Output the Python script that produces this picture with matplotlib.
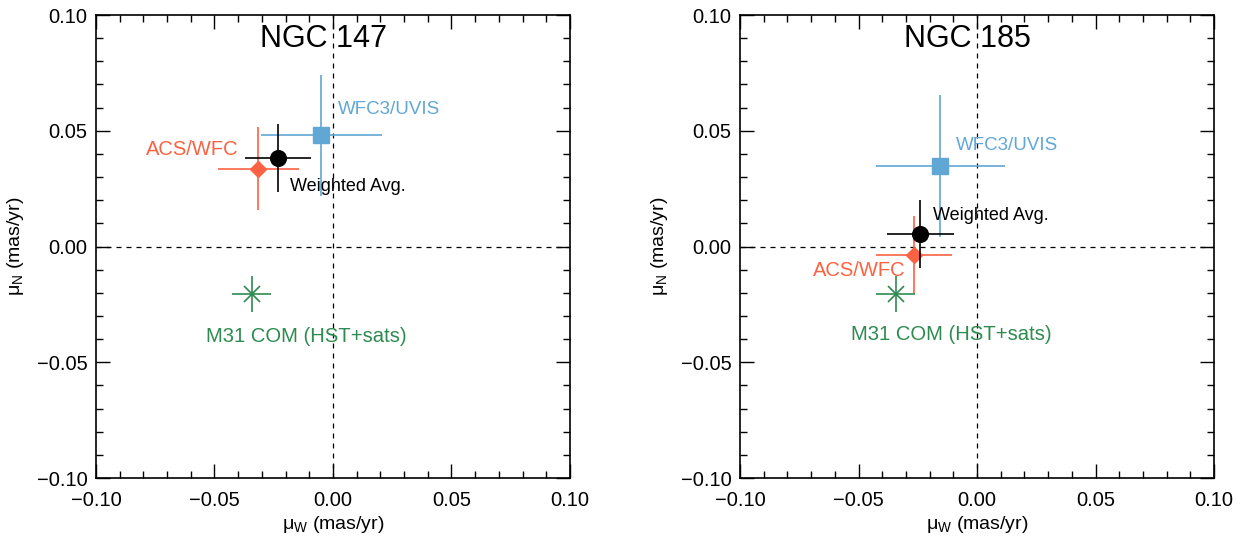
import matplotlib
matplotlib.use("Agg")
import matplotlib.pyplot as plt
from matplotlib.ticker import MultipleLocator

plt.rcParams['font.family'] = ['Liberation Sans', 'DejaVu Sans']
plt.rcParams['mathtext.fontset'] = 'custom'
plt.rcParams['mathtext.rm'] = 'Liberation Sans'
plt.rcParams['mathtext.it'] = 'Liberation Sans'

# ---- data (mas/yr) ----
panels = ["NGC 147", "NGC 185"]

wfc3_x = [-0.0049, -0.0155]
wfc3_y = [0.0480, 0.0349]
wfc3_xerr = [0.0255, 0.0273]
wfc3_yerr = [0.0260, 0.0306]

acs_x = [-0.0315, -0.0266]
acs_y = [0.0336, -0.0037]
acs_xerr = [0.0170, 0.0162]
acs_yerr = [0.0180, 0.0170]

avg_x = [-0.0233, -0.0239]
avg_y = [0.0384, 0.0055]
avg_xerr = [0.0140, 0.0140]
avg_yerr = [0.0147, 0.0148]

m31_x = [-0.0343, -0.0343]
m31_y = [-0.0205, -0.0205]
m31_xerr = [0.0082, 0.0082]
m31_yerr = [0.0079, 0.0079]

# label positions (data coords)
wfc3_lab = [(0.002, 0.059), (-0.009, 0.0438)]
acs_lab = [(-0.0397, 0.0417), (-0.030, -0.0102)]
avg_lab = [(-0.0181, 0.0258), (-0.0187, 0.0136)]
m31_lab = [(-0.0112, -0.0390), (-0.0108, -0.0382)]
title_pos = [(-0.004, 0.0895), (-0.004, 0.0895)]

BLUE = '#61a7d5'
RED = '#fb6243'
GREEN = '#2e8b4f'

fig = plt.figure(figsize=(12.45, 5.38), dpi=100)
axes = [fig.add_axes([0.0771, 0.1115, 0.3807, 0.8606]),
        fig.add_axes([0.5944, 0.1115, 0.3807, 0.8606])]

for i, ax in enumerate(axes):
    ax.set_xlim(-0.1, 0.1)
    ax.set_ylim(-0.1, 0.1)
    ax.axhline(0, color='black', ls=(0, (4, 4)), lw=0.9, zorder=1)
    ax.axvline(0, color='black', ls=(0, (4, 4)), lw=0.9, zorder=1)

    ax.errorbar(wfc3_x[i], wfc3_y[i], xerr=wfc3_xerr[i], yerr=wfc3_yerr[i],
                fmt='s', color=BLUE, ms=12, elinewidth=1.2, capsize=0, zorder=3)
    ax.errorbar(acs_x[i], acs_y[i], xerr=acs_xerr[i], yerr=acs_yerr[i],
                fmt='D', color=RED, ms=7.8, elinewidth=1.2, capsize=0, zorder=4)
    ax.errorbar(avg_x[i], avg_y[i], xerr=avg_xerr[i], yerr=avg_yerr[i],
                fmt='o', color='black', ms=11.3, elinewidth=1.2, capsize=0, zorder=5)
    ax.errorbar(m31_x[i], m31_y[i], xerr=m31_xerr[i], yerr=m31_yerr[i],
                fmt='none', ecolor=GREEN, elinewidth=1.2, capsize=0, zorder=4)
    ax.plot(m31_x[i], m31_y[i], marker='x', color=GREEN, ms=12, mew=1.2,
            ls='none', zorder=4)

    ax.text(*wfc3_lab[i], "WFC3/UVIS", color=BLUE, fontsize=13.5,
            ha='left', va='center')
    ax.text(*acs_lab[i], "ACS/WFC", color=RED, fontsize=14.5,
            ha='right', va='center')
    ax.text(*avg_lab[i], "Weighted Avg.", color='black', fontsize=13,
            ha='left', va='center')
    ax.text(*m31_lab[i], "M31 COM (HST+sats)", color=GREEN, fontsize=14.6,
            ha='center', va='center')
    ax.text(*title_pos[i], panels[i], color='black', fontsize=22,
            ha='center', va='center')

    ax.xaxis.set_major_locator(MultipleLocator(0.05))
    ax.xaxis.set_minor_locator(MultipleLocator(0.01))
    ax.yaxis.set_major_locator(MultipleLocator(0.05))
    ax.yaxis.set_minor_locator(MultipleLocator(0.01))
    ax.tick_params(which='both', direction='in', top=True, right=True,
                   labelsize=14.5, width=1.0)
    ax.tick_params(axis='x', which='major', pad=9)
    ax.tick_params(axis='y', which='major', pad=6)
    ax.tick_params(which='major', length=10)
    ax.tick_params(which='minor', length=5)
    fmt = lambda v, p: ("%.2f" % v).replace('-', '\u2212') if abs(v) > 1e-9 else "0.00"
    ax.xaxis.set_major_formatter(plt.FuncFormatter(fmt))
    ax.yaxis.set_major_formatter(plt.FuncFormatter(fmt))
    for s in ax.spines.values():
        s.set_linewidth(1.2)
    ax.set_xlabel(r"$\mathrm{\mu_W}$ (mas/yr)", fontsize=14, labelpad=3)
    ax.set_ylabel(r"$\mathrm{\mu_N}$ (mas/yr)", fontsize=14, labelpad=8)

fig.savefig("out.png", dpi=100)
